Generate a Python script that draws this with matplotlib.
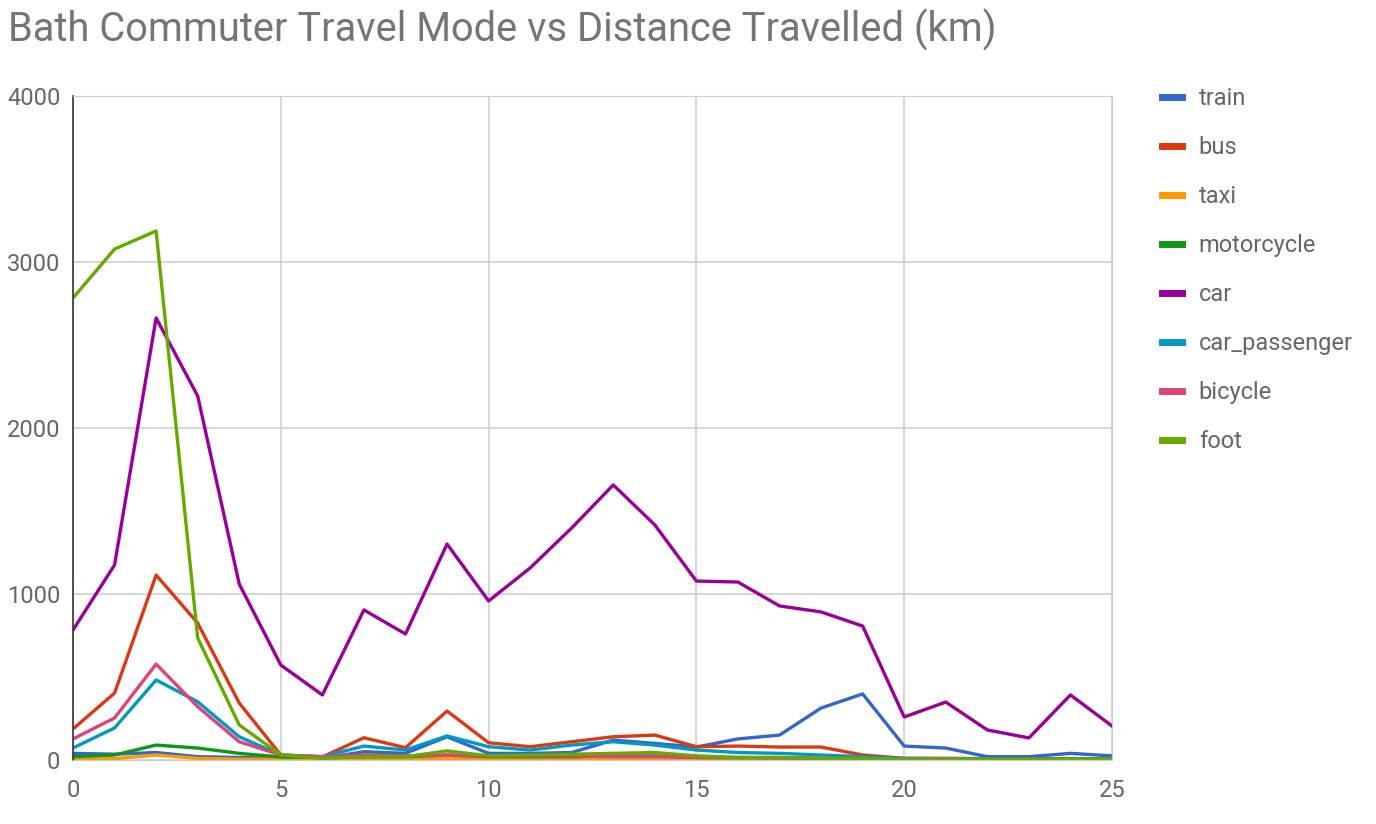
import matplotlib
matplotlib.use("Agg")
import matplotlib.pyplot as plt

distance = list(range(26))

train = [40, 35, 45, 20, 15, 10, 10, 50, 40, 140, 40, 40, 45, 120, 100, 78,
         127, 150, 313, 398, 84, 72, 20, 20, 40, 25]
bus = [187, 403, 1114, 825, 343, 30, 18, 134, 74, 295, 104, 80, 110, 140, 150, 80,
       84, 78, 78, 30, 10, 10, 8, 8, 8, 8]
taxi = [5, 8, 30, 10, 5, 5, 5, 5, 5, 10, 5, 5, 5, 8, 8, 5,
        5, 5, 5, 5, 3, 3, 3, 3, 3, 3]
motorcycle = [20, 30, 90, 72, 40, 18, 15, 20, 20, 30, 20, 20, 20, 25, 25, 15,
              15, 15, 10, 10, 8, 8, 5, 5, 5, 5]
car = [783, 1175, 2663, 2193, 1060, 572, 392, 904, 759, 1301, 958, 1157, 1398, 1657, 1416, 1078,
       1072, 928, 892, 807, 259, 349, 181, 133, 392, 205]
car_passenger = [72, 193, 482, 351, 140, 30, 20, 84, 60, 145, 80, 60, 90, 110, 90, 60,
                 45, 40, 30, 20, 10, 8, 5, 5, 5, 5]
bicycle = [127, 253, 578, 321, 110, 30, 20, 30, 25, 30, 25, 25, 25, 20, 20, 15,
           15, 12, 10, 10, 5, 5, 3, 3, 3, 3]
foot = [2783, 3078, 3187, 735, 211, 30, 10, 20, 20, 55, 25, 30, 35, 40, 45, 25,
        15, 15, 10, 10, 5, 5, 5, 5, 5, 5]

series = [
    ("train", train, "#3366cc"),
    ("bus", bus, "#dc3912"),
    ("taxi", taxi, "#ff9900"),
    ("motorcycle", motorcycle, "#109618"),
    ("car", car, "#990099"),
    ("car_passenger", car_passenger, "#0099c6"),
    ("bicycle", bicycle, "#dd4477"),
    ("foot", foot, "#66aa00"),
]

plt.rcParams['font.family'] = ['Roboto', 'DejaVu Sans']

fig = plt.figure(figsize=(13.76, 8.24), dpi=100)
ax = fig.add_axes([73 / 1376, 1 - 760 / 824, (1112 - 73) / 1376, (760 - 96) / 824])

for name, vals, col in series:
    ax.plot(distance, vals, color=col, linewidth=2.4, label=name)

ax.set_xlim(0, 25)
ax.set_ylim(0, 4000)
ax.set_xticks([0, 5, 10, 15, 20, 25])
ax.set_yticks([0, 1000, 2000, 3000, 4000])
ax.grid(True, color="#cccccc", linewidth=1.1)
ax.set_axisbelow(True)
for s in ["top", "right", "bottom"]:
    ax.spines[s].set_color("#cccccc")
ax.spines["left"].set_color("#333333")
ax.spines["left"].set_linewidth(1.2)
ax.tick_params(length=0, labelsize=17, labelcolor="#666666")
ax.tick_params(axis="y", pad=9)
ax.tick_params(axis="x", pad=14)

fig.text(8 / 1376, 1 - 30 / 824, "Bath Commuter Travel Mode vs Distance Travelled (km)",
         fontsize=28.7, color="#757575", va="center", ha="left")

leg = ax.legend(loc="upper left", bbox_to_anchor=(1.0274, 1.045), frameon=False,
                fontsize=17, labelspacing=1.1, handlelength=0.85, handletextpad=0.72,
                labelcolor="#666666")
for h in leg.get_lines():
    h.set_linewidth(5)

fig.savefig("out.png", dpi=100)
